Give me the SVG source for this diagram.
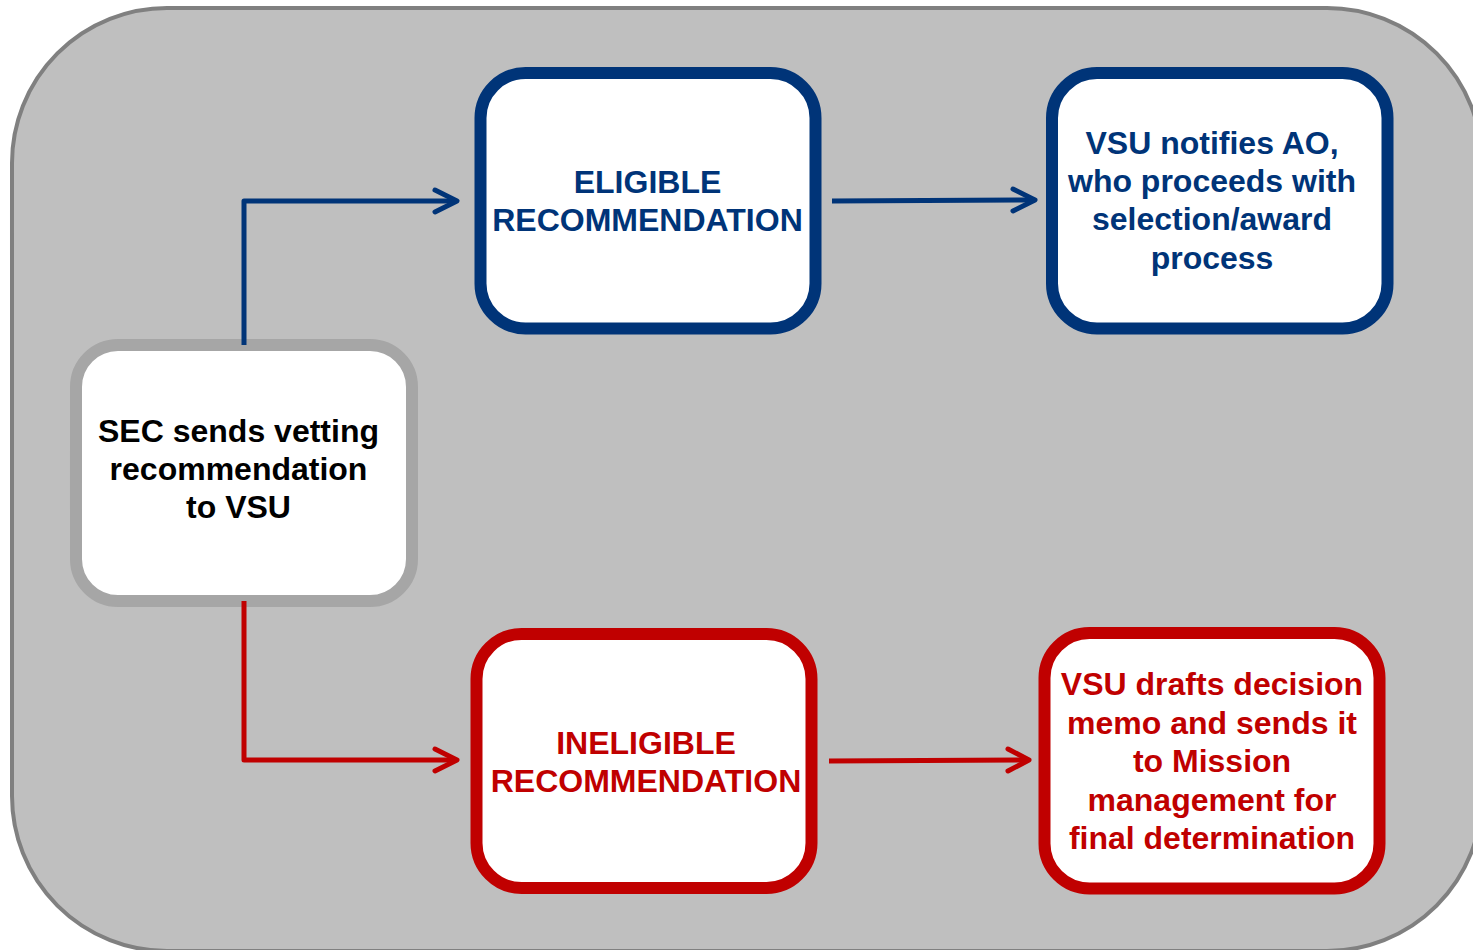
<svg xmlns="http://www.w3.org/2000/svg" width="1473" height="950" viewBox="0 0 1473 950">
<style>
.node{fill:#ffffff;stroke-width:12}
.blue{stroke:#003478}
.red{stroke:#C00000}
.gray{stroke:#A6A6A6}
.t{font-family:"Liberation Sans",Arial,sans-serif;font-weight:bold;font-size:32px;text-anchor:middle}
.tb{fill:#003478}
.tr{fill:#C00000}
.tk{fill:#000000}
.conn{fill:none;stroke-width:5;stroke-linejoin:round}
.head{fill:none;stroke-width:5;stroke-linecap:round;stroke-linejoin:round}
</style>
<rect id="background" x="12" y="8" width="1470" height="943" rx="155" ry="155" fill="#BFBFBF" stroke="#808080" stroke-width="4"/>
<g id="node-sec">
<rect class="node gray" x="76" y="345" width="336" height="256" rx="42"/>
<text class="t tk" x="238.5" y="441.5">SEC sends vetting</text>
<text class="t tk" x="238.5" y="479.8">recommendation</text>
<text class="t tk" x="238.5" y="518.1">to VSU</text>
</g>
<g id="node-eligible">
<rect class="node blue" x="480.5" y="73" width="335" height="255.5" rx="45"/>
<text class="t tb" x="647.5" y="192.5">ELIGIBLE</text>
<text class="t tb" x="647.5" y="230.8">RECOMMENDATION</text>
</g>
<g id="node-notifies">
<rect class="node blue" x="1052" y="73" width="335.5" height="255.5" rx="45"/>
<text class="t tb" x="1212" y="153.5">VSU notifies AO,</text>
<text class="t tb" x="1212" y="192">who proceeds with</text>
<text class="t tb" x="1212" y="230.3">selection/award</text>
<text class="t tb" x="1212" y="268.6">process</text>
</g>
<g id="node-ineligible">
<rect class="node red" x="476.5" y="634" width="335" height="254" rx="45"/>
<text class="t tr" x="646" y="753.5">INELIGIBLE</text>
<text class="t tr" x="646" y="791.8">RECOMMENDATION</text>
</g>
<g id="node-drafts">
<rect class="node red" x="1044.5" y="633" width="335" height="255.5" rx="45"/>
<text class="t tr" x="1212" y="695">VSU drafts decision</text>
<text class="t tr" x="1212" y="733.5">memo and sends it</text>
<text class="t tr" x="1212" y="772">to Mission</text>
<text class="t tr" x="1212" y="810.5">management for</text>
<text class="t tr" x="1212" y="849">final determination</text>
</g>
<g id="connectors">
<polyline class="conn blue" points="244,345 244,201 456,201"/>
<polyline class="head blue" points="435,190 457,201 435,212"/>
<polyline class="conn blue" points="832,201 1034,200"/>
<polyline class="head blue" points="1013,189 1035,200 1013,211"/>
<polyline class="conn red" points="244,601 244,760 456,760"/>
<polyline class="head red" points="435,749 457,760 435,771"/>
<polyline class="conn red" points="829,761 1028,760"/>
<polyline class="head red" points="1008,749 1029,760 1008,771"/>
</g>
</svg>
